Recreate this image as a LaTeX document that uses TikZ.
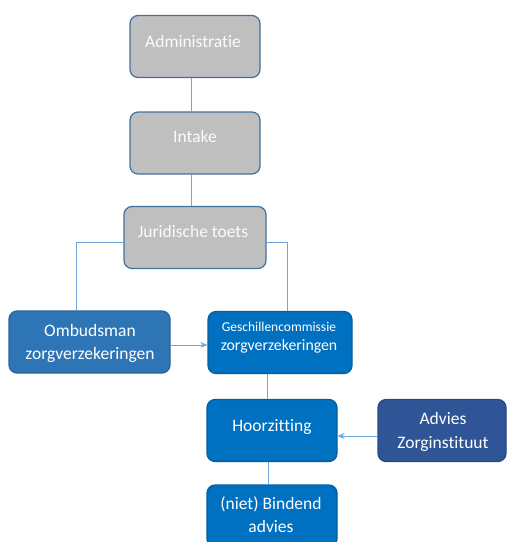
\documentclass[tikz,border=0pt]{standalone}
\usepackage{fontspec}
\setmainfont{Carlito}[Ligatures=CommonOff]
\usetikzlibrary{arrows.meta}
\definecolor{grayfill}{HTML}{BFBFBF}
\definecolor{grayedge}{HTML}{41719C}
\definecolor{ombfill}{HTML}{2E75B6}
\definecolor{bluefill}{HTML}{0070C0}
\definecolor{darkfill}{HTML}{2F5597}
\definecolor{linecol}{HTML}{6FA8DC}
\tikzset{
  box/.style={rectangle, rounded corners=8pt, minimum width=#1, minimum height=62pt, inner sep=0pt, line width=1.2pt},
  graybox/.style={box=#1, fill=grayfill, draw=grayedge},
  ombbox/.style={box=#1, fill=ombfill, draw=ombfill!85!black},
  bluebox/.style={box=#1, fill=bluefill, draw=bluefill!85!black},
  darkbox/.style={box=#1, fill=darkfill, draw=darkfill!85!black},
  txt/.style={anchor=base, inner sep=0pt, text=white, font=\fontsize{17.5}{21}\selectfont},
  graytxt/.style={txt, text=white!97!gray},
  smalltxt/.style={txt, font=\fontsize{13.5}{16}\selectfont},
  midtxt/.style={txt, font=\fontsize{15.8}{19}\selectfont},
  conn/.style={draw=linecol, line width=1pt},
  arr/.style={conn, -{Stealth[length=7pt,width=6pt]}}
}
\begin{document}
\begin{tikzpicture}[x=1pt,y=-1pt]
\useasboundingbox (0,0) rectangle (507,542);
\clip (0,0) rectangle (507,542);
\coordinate (jl) at (76,242);
\coordinate (jr) at (287,242);
% boxes
\node[graybox=130pt] (adm) at (195,46.5) {};
\node[graybox=130pt] (int) at (195,143) {};
\node[graybox=142pt] (jur) at (195,237.5) {};
\node[ombbox=161pt] (omb) at (89.5,342) {};
\node[bluebox=144pt] (ges) at (280,342.5) {};
\node[bluebox=130pt] (hoor) at (272,430.5) {};
\node[darkbox=128pt] (adv) at (442,430.5) {};
\node[bluebox=130pt] (bind) at (272,516) {};
% connectors
\draw[conn] (adm.south -| 191,0) -- (int.north -| 191,0);
\draw[conn] (int.south -| 191,0) -- (jur.north -| 191,0);
\draw[conn] (jur.west |- jl) -- (jl) -- (omb.north -| jl);
\draw[conn] (jur.east |- jr) -- (jr) -- (ges.north -| jr);
\draw[arr] (omb.east |- 0,345) -- (ges.west |- 0,345);
\draw[conn] (ges.south -| 267,0) -- (hoor.north -| 267,0);
\draw[arr] (adv.west |- 0,436) -- (hoor.east |- 0,436);
\draw[conn] (hoor.south -| 268,0) -- (bind.north -| 268,0);
% texts
\node[graytxt] (admt) at (193,47.3) {Administratie};
\node[graytxt] (intt) at (195,142.7) {Intake};
\node[graytxt] (jurt) at (193,237.7) {Juridische toets};
\node[txt] (omb1) at (90,336.7) {Ombudsman};
\node[txt] (omb2) at (90,359.5) {zorgverzekeringen};
\node[smalltxt] (ges1) at (279,331.7) {Geschillencommissie};
\node[midtxt] (ges2) at (279,350.7) {zorgverzekeringen};
\node[txt] (hoort) at (272,431.7) {Hoorzitting};
\node[txt] (adv1) at (443,424.3) {Advies};
\node[txt] (adv2) at (443,448) {Zorginstituut};
\node[txt] (bind1) at (271,509) {(niet) Bindend};
\node[txt] (bind2) at (271,532.7) {advies};
\end{tikzpicture}
\end{document}
